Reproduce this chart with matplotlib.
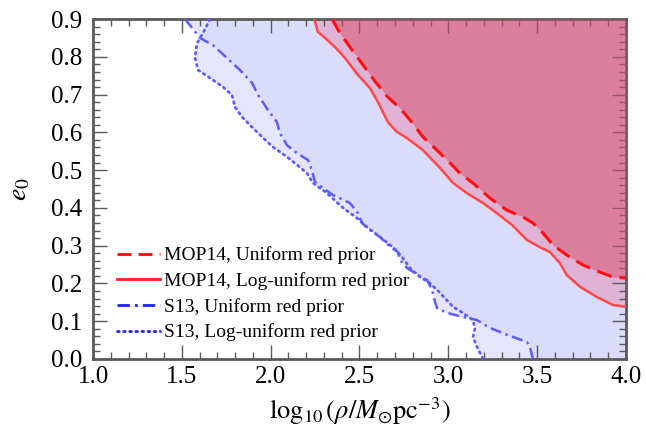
"""Eccentricity vs. density constraints: MOP14 and S13 curves with shaded allowed regions."""
import matplotlib
matplotlib.use("Agg")
import matplotlib.pyplot as plt
from matplotlib.lines import Line2D
from matplotlib.ticker import MultipleLocator, FormatStrFormatter

plt.rcParams["font.family"] = ["Liberation Serif", "DejaVu Serif"]
plt.rcParams["mathtext.fontset"] = "stix"

# MOP14, uniform red prior (dashed)
mop_uni_x = [2.345, 2.390, 2.446, 2.491, 2.548, 2.604, 2.660, 2.728, 2.784, 2.857,
             2.953, 3.009, 3.065, 3.138, 3.234, 3.329, 3.419, 3.476, 3.532, 3.588,
             3.667, 3.757, 3.853, 3.926, 4.000]
mop_uni_y = [0.900, 0.863, 0.826, 0.797, 0.760, 0.725, 0.693, 0.664, 0.633, 0.588,
             0.545, 0.519, 0.492, 0.466, 0.426, 0.394, 0.376, 0.360, 0.334, 0.302,
             0.275, 0.249, 0.230, 0.217, 0.214]

# MOP14, log-uniform red prior (solid)
mop_log_x = [2.245, 2.266, 2.306, 2.362, 2.418, 2.491, 2.559, 2.604, 2.660, 2.711,
             2.767, 2.857, 2.953, 3.026, 3.105, 3.195, 3.273, 3.358, 3.442, 3.515,
             3.572, 3.628, 3.667, 3.741, 3.836, 3.926, 4.000]
mop_log_y = [0.900, 0.866, 0.850, 0.826, 0.797, 0.752, 0.717, 0.680, 0.627, 0.601,
             0.585, 0.553, 0.506, 0.466, 0.439, 0.413, 0.386, 0.355, 0.315, 0.296,
             0.283, 0.254, 0.222, 0.191, 0.164, 0.143, 0.138]

# S13, uniform red prior (dash-dot)
s13_uni_x = [1.518, 1.602, 1.675, 1.754, 1.827, 1.895, 1.929, 1.985, 2.035, 2.052,
             2.092, 2.148, 2.210, 2.232, 2.249, 2.294, 2.351, 2.446, 2.491, 2.514,
             2.559, 2.615, 2.660, 2.716, 2.728, 2.767, 2.829, 2.880, 2.908, 2.925,
             2.936, 2.992, 3.082, 3.161, 3.234, 3.330, 3.442, 3.459, 3.476]
s13_uni_y = [0.900, 0.850, 0.831, 0.797, 0.765, 0.731, 0.699, 0.659, 0.627, 0.598,
             0.566, 0.545, 0.527, 0.500, 0.469, 0.453, 0.434, 0.413, 0.386, 0.360,
             0.341, 0.323, 0.302, 0.283, 0.262, 0.241, 0.222, 0.209, 0.183, 0.151,
             0.135, 0.122, 0.111, 0.103, 0.082, 0.064, 0.045, 0.032, 0.000]

# S13, log-uniform red prior (dotted)
s13_log_x = [1.658, 1.619, 1.585, 1.574, 1.591, 1.658, 1.732, 1.782, 1.799, 1.838,
             1.895, 1.951, 2.013, 2.092, 2.148, 2.204, 2.238, 2.317, 2.407, 2.486,
             2.542, 2.615, 2.688, 2.739, 2.784, 2.840, 2.896, 2.953, 3.026, 3.082,
             3.138, 3.150, 3.139, 3.161, 3.195]
s13_log_y = [0.900, 0.863, 0.836, 0.797, 0.765, 0.744, 0.720, 0.699, 0.667, 0.641,
             0.614, 0.588, 0.561, 0.535, 0.514, 0.492, 0.466, 0.439, 0.400, 0.373,
             0.349, 0.323, 0.296, 0.270, 0.241, 0.217, 0.201, 0.175, 0.138, 0.122,
             0.103, 0.082, 0.058, 0.032, 0.000]

labels = ["MOP14, Uniform red prior", "MOP14, Log-uniform red prior",
          "S13, Uniform red prior", "S13, Log-uniform red prior"]

XMAX = 4.0
spine_col = "#5a5a5a"

fig = plt.figure(figsize=(6.46, 4.34), dpi=100)
ax = fig.add_axes([0.144, 0.173, 0.825, 0.783])

# shaded regions
ax.fill_betweenx(s13_log_y, s13_log_x, XMAX, color="#D5D5FC", alpha=0.6, lw=0, zorder=1)
ax.fill_betweenx(s13_uni_y, s13_uni_x, XMAX, color="#D5D5FC", alpha=0.6, lw=0, zorder=1)
ax.fill_betweenx(mop_log_y, mop_log_x, XMAX, color="#E0B3D6", lw=0, zorder=1.5)
ax.fill_betweenx(mop_uni_y, mop_uni_x, XMAX, color="#DA4B68", alpha=0.5, lw=0, zorder=3)

# curves
ax.plot(mop_uni_x, mop_uni_y, color="#FF1010", lw=2.2, dashes=(5, 2.6), zorder=4)
ax.plot(mop_log_x, mop_log_y, color="#FF4848", lw=1.8, zorder=4)
ax.plot(s13_uni_x, s13_uni_y, color="#5C5CFF", lw=1.8,
        dashes=(4.5, 1.8, 1.0, 1.8), zorder=4)
ax.plot(s13_log_x, s13_log_y, color="#5C5CFF", lw=2.0,
        dashes=(0.6, 1.6), dash_capstyle="round", zorder=4)

ax.set_xlim(1.0, 4.0)
ax.set_ylim(0.0, 0.9)
ax.xaxis.set_major_locator(MultipleLocator(0.5))
ax.xaxis.set_minor_locator(MultipleLocator(0.1))
ax.yaxis.set_major_locator(MultipleLocator(0.1))
ax.yaxis.set_minor_locator(MultipleLocator(0.02))
ax.xaxis.set_major_formatter(FormatStrFormatter("%.1f"))
ax.yaxis.set_major_formatter(FormatStrFormatter("%.1f"))
ax.tick_params(which="both", direction="in", top=True, right=True,
               color=spine_col, labelsize=18)
ax.tick_params(axis="x", which="major", pad=5)
ax.tick_params(axis="y", which="major", pad=8)
ax.tick_params(which="major", length=10, width=1.0)
ax.tick_params(which="minor", length=5, width=1.0)
for s in ax.spines.values():
    s.set_color(spine_col)
    s.set_linewidth(2.0)

ax.set_xlabel(r"$\log_{10}(\rho/M_{\odot}\mathrm{pc}^{-3})$", fontsize=19, labelpad=5)
ax.set_ylabel(r"$e_0$", fontsize=20, labelpad=13)

handles = [
    Line2D([], [], color="#FF0000", lw=2.0, dashes=(5, 2.6)),
    Line2D([], [], color="#FF2020", lw=2.0),
    Line2D([], [], color="#2020FF", lw=2.0, dashes=(4.5, 1.8, 1.0, 1.8)),
    Line2D([], [], color="#2020FF", lw=2.0, dashes=(0.6, 1.6), dash_capstyle="round"),
]
leg = ax.legend(handles, labels, loc="lower left", bbox_to_anchor=(0.012, 0.0),
                frameon=False, fontsize=14, handlelength=2.2, handletextpad=0.2,
                labelspacing=0.4, borderaxespad=0.5)
leg.set_zorder(5)

fig.savefig("out.png", dpi=100)
